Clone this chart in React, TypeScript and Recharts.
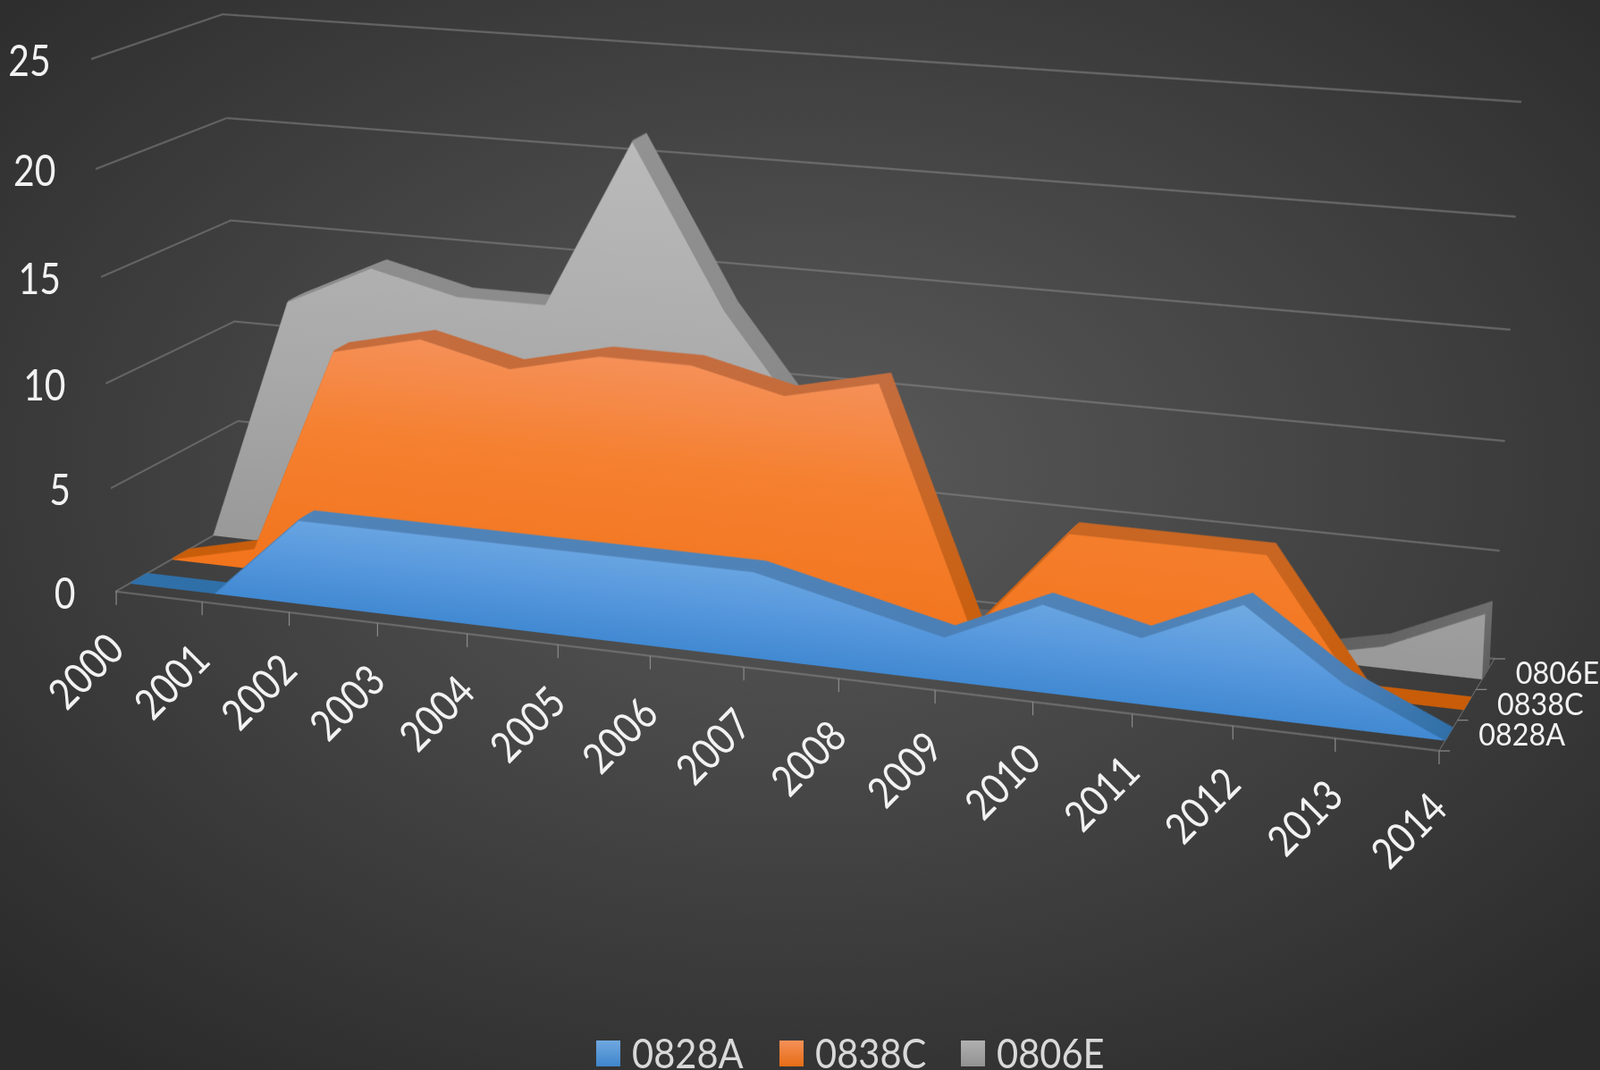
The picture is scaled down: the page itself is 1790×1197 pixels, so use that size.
import React from 'react';
import { AreaChart, Area, XAxis, YAxis, ReferenceLine, Legend } from 'recharts';

const years = ['2000','2001','2002','2003','2004','2005','2006','2007','2008','2009','2010','2011','2012','2013','2014'];
const s0828A = [0,0,4,4,4,4,4,4,3,2,4,3,5,2,0];
const s0838C = [0,1,11,12,11,12,12,11,12,1,6,6,6,0,0];
const s0806E = [0,12,14,13,13,21,13.5,8,0,0,0,0,0,1,3];
const seriesNames = ['0828A','0838C','0806E'];
const valueTicks = [0,5,10,15,20,25];
const rows = years.map((year,i)=>({year,a:s0828A[i],c:s0838C[i],e:s0806E[i]}));
const depthRows = seriesNames.map(name=>({name,v:0}));

type P=[number,number];
const FLT:P=[101.6,66.2], FRT:P=[1642,185], FLB:P=[129.3,661.7], FRB:P=[1610,840];
const BLT:P=[249,16], BRT:P=[1702,114], BLB:P=[270,581], BRB:P=[1672,737];
const lerp=(a:P,b:P,t:number):P=>[a[0]+(b[0]-a[0])*t,a[1]+(b[1]-a[1])*t];
type Quad={tl:P,tr:P,br:P,bl:P};
const planeAt=(t:number):Quad=>({tl:lerp(FLT,BLT,t),tr:lerp(FRT,BRT,t),br:lerp(FRB,BRB,t),bl:lerp(FLB,BLB,t)});
function homography(q:Quad){
  const [x0,y0]=q.tl,[x1,y1]=q.tr,[x2,y2]=q.br,[x3,y3]=q.bl;
  const dx1=x1-x2,dx2=x3-x2,sx=x0-x1+x2-x3,dy1=y1-y2,dy2=y3-y2,sy=y0-y1+y2-y3;
  const den=dx1*dy2-dx2*dy1;
  const g=(sx*dy2-dx2*sy)/den,h=(dx1*sy-sx*dy1)/den;
  return {a:x1-x0+g*x1,b:x3-x0+h*x3,c:x0,d:y1-y0+g*y1,e:y3-y0+h*y3,f:y0,g,h};
}
const project=(q:Quad,u:number,v:number):P=>{
  const m=homography(q);const w=m.g*u+m.h*v+1;
  return [(m.a*u+m.b*v+m.c)/w,(m.d*u+m.e*v+m.f)/w];
};
const W=1400,H=520,M=20;
const cssMatrix=(q:Quad)=>{
  const m=homography(q);
  return `matrix3d(${[m.a/W,m.d/W,0,m.g/W,m.b/H,m.e/H,0,m.h/H,0,0,1,0,m.c,m.f,0,1].join(',')})`;
};

function Plane({quad,children,id}:{quad:Quad,children:React.ReactNode,id:string}){
  return (
    <div style={{position:'absolute',left:0,top:0,width:W,height:H,transformOrigin:'0 0',transform:cssMatrix(quad)}}>
      <div style={{position:'absolute',left:-M,top:-M}}>
        <AreaChart id={id} width={W+2*M} height={H+2*M} data={rows} margin={{top:M,right:M,bottom:M,left:M}}>
          <XAxis dataKey="year" hide scale="point" />
          <YAxis hide type="number" domain={[0,25]} />
          {children}
        </AreaChart>
      </div>
    </div>
  );
}

const GRID='#8c8c8c';
const ghost=<Area key="ghost" dataKey="a" isAnimationActive={false} fillOpacity={0} stroke="none" dot={false} activeDot={false}/>;
const gridLines=(vals:number[])=>[ghost,...vals.map(v=><ReferenceLine key={v} y={v} stroke={GRID} strokeWidth={1} ifOverflow="visible" />)];

function Grad({id,stops}:{id:string,stops:[number,string][]}){
  return <defs><linearGradient id={id} x1="0" y1="0" x2="0" y2="1">{stops.map(([o,c])=><stop key={o} offset={o} stopColor={c}/>)}</linearGradient></defs>;
}

const RIDGE_LAYERS=12;
const THICK=0.135;
const styles=[
  {key:'a',t:0.11,face:[[0,'#70aae2'],[0.5,'#5a9ade'],[1,'#4189d2']] as [number,string][],ridge:[[0,'#5184b8'],[0.6,'#4a7fb6'],[1,'#2f6fa8']] as [number,string][]},
  {key:'c',t:0.443,face:[[0,'#f59058'],[0.4,'#f58030'],[1,'#f2741c']] as [number,string][],ridge:[[0,'#c46c3e'],[0.6,'#c9641c'],[1,'#c85c08']] as [number,string][]},
  {key:'e',t:0.776,face:[[0,'#bababa'],[0.6,'#a8a8a8'],[1,'#999999']] as [number,string][],ridge:[[0,'#929292'],[0.6,'#888888'],[1,'#5e5e5e']] as [number,string][]},
];

function Solid({s}:{s:typeof styles[number]}){
  const layers:React.ReactNode[]=[];
  for(let i=RIDGE_LAYERS;i>=1;i--){
    const id=`r-${s.key}-${i}`;
    layers.push(
      <Plane key={id} id={id} quad={planeAt(s.t+THICK*i/RIDGE_LAYERS)}>
        <Grad id={id+'g'} stops={s.ridge}/>
        <Area dataKey={s.key} type="linear" isAnimationActive={false} fill={`url(#${id}g)`} fillOpacity={1} stroke={`url(#${id}g)`} strokeWidth={2} dot={false} activeDot={false}/>
      </Plane>
    );
  }
  const id=`f-${s.key}`;
  layers.push(
    <Plane key={id} id={id} quad={planeAt(s.t)}>
      <Grad id={id+'g'} stops={s.face}/>
      <Area dataKey={s.key} type="linear" isAnimationActive={false} fill={`url(#${id}g)`} fillOpacity={1} stroke="none" dot={false} activeDot={false}/>
    </Plane>
  );
  return <>{layers}</>;
}

const FULLW=1790,FULLH=1197;
const TXT='#f2f2f2';
const FONT='Lato';
const front=planeAt(0);

function XTick({x,payload}:any){
  const [px,py]=project(front,x/FULLW,1);
  return <g>
    <line x1={px} y1={py} x2={px} y2={py+15} stroke={GRID} strokeWidth={1.2}/>
    <text transform={`translate(${px-22},${py+101}) rotate(-45) scale(0.85,1)`} textAnchor="middle" fill={TXT} fontFamily={FONT} fontSize={48}>{payload.value}</text>
  </g>;
}
function YTick({y,payload}:any){
  const [px,py]=project(front,0,y/(FULLH-1));
  return <text transform={`translate(${px-45},${py+19}) scale(0.85,1)`} textAnchor="end" fill={TXT} fontFamily={FONT} fontSize={48}>{payload.value}</text>;
}
const DW=600;
function DepthTick({x,payload,index}:any){
  const t=x/DW;
  const [px,py]=lerp(FRB,BRB,t);
  const [a,b]=lerp(FRB,BRB,t-1/6);
  const [c,d]=lerp(FRB,BRB,t+1/6);
  return <g>
    <line x1={a} y1={b} x2={a+12} y2={b} stroke={GRID} strokeWidth={1.2}/>
    {index===seriesNames.length-1 && <line x1={c} y1={d} x2={c+12} y2={d} stroke={GRID} strokeWidth={1.2}/>}
    <text transform={`translate(${px+34},${py+11}) scale(0.95,1)`} fill={TXT} fontFamily={FONT} fontSize={34}>{payload.value}</text>
  </g>;
}

const legendLeft=[667,872,1075];
const legendGrad=[['#70a8e0','#3f86cc'],['#f59058','#e56d15'],['#b0b0b0','#929292']];
function LegendBox({payload}:any){
  return <div style={{position:'relative',width:700,height:37}}>
    {(payload||[]).map((p:any,i:number)=>(
      <div key={p.value} style={{position:'absolute',left:legendLeft[i]-667,top:0,height:37}}>
        <div style={{position:'absolute',left:0,top:4,width:27,height:29,background:`linear-gradient(${legendGrad[i][0]},${legendGrad[i][1]})`}}/>
        <div style={{position:'absolute',left:40,top:0,fontFamily:FONT,fontSize:46,lineHeight:'36px',color:'#d9d9d9',transform:'scaleX(0.905)',transformOrigin:'0 0',whiteSpace:'nowrap'}}>{p.value}</div>
      </div>
    ))}
  </div>;
}

export default function App(){
  return (
    <div style={{position:'absolute',left:0,top:0,width:FULLW,height:FULLH,overflow:'hidden',
      background:'radial-gradient(ellipse 70% 70% at 50% 44%, #5a5a5a 0%, #2b2b2b 100%)'}}>
      <Plane id="back" quad={planeAt(1)}>{gridLines(valueTicks)}</Plane>
      <Plane id="left" quad={{tl:FLT,tr:BLT,br:BLB,bl:FLB}}>{gridLines(valueTicks)}</Plane>
      <Plane id="right" quad={{tl:FRT,tr:BRT,br:BRB,bl:FRB}}>{gridLines([0])}</Plane>
      <Solid s={styles[2]}/>
      <Solid s={styles[1]}/>
      <Solid s={styles[0]}/>
      <Plane id="front" quad={front}>{gridLines([0])}</Plane>
      <div style={{position:'absolute',left:0,top:0}}>
        <AreaChart width={FULLW} height={FULLH} data={rows} margin={{top:0,right:0,bottom:0,left:0}}>
          <XAxis dataKey="year" scale="point" interval={0} height={1} axisLine={false} tickLine={false} tick={<XTick/>}/>
          <YAxis type="number" domain={[0,25]} ticks={valueTicks} width={1} axisLine={false} tickLine={false} tick={<YTick/>} interval={0}/>
          <Area dataKey="a" isAnimationActive={false} fillOpacity={0} stroke="none" dot={false} activeDot={false}/>
        </AreaChart>
      </div>
      <div style={{position:'absolute',left:0,top:0}}>
        <AreaChart width={FULLW} height={FULLH} data={depthRows} margin={{top:0,right:FULLW-DW,bottom:FULLH-100,left:0}}>
          <XAxis dataKey="name" scale="point" padding={{left:DW/6,right:DW/6}} interval={0} height={1} axisLine={false} tickLine={false} tick={<DepthTick/>}/>
          <YAxis hide/>
          <Area dataKey="v" isAnimationActive={false} fillOpacity={0} stroke="none" dot={false} activeDot={false}/>
        </AreaChart>
      </div>
      <div style={{position:'absolute',left:0,top:1160}}>
        <AreaChart width={FULLW} height={37} data={rows} margin={{top:0,right:0,bottom:0,left:0}}>
          <XAxis dataKey="year" hide/>
          <YAxis hide/>
          <Area name={seriesNames[0]} dataKey="a" isAnimationActive={false} fillOpacity={0} stroke="none" fill="#5b9bd5"/>
          <Area name={seriesNames[1]} dataKey="c" isAnimationActive={false} fillOpacity={0} stroke="none" fill="#ed7d31"/>
          <Area name={seriesNames[2]} dataKey="e" isAnimationActive={false} fillOpacity={0} stroke="none" fill="#a5a5a5"/>
          <Legend content={<LegendBox/>} itemSorter={null as any} wrapperStyle={{position:'absolute',left:667,top:0,width:700,bottom:'auto'}}/>
        </AreaChart>
      </div>
    </div>
  );
}
